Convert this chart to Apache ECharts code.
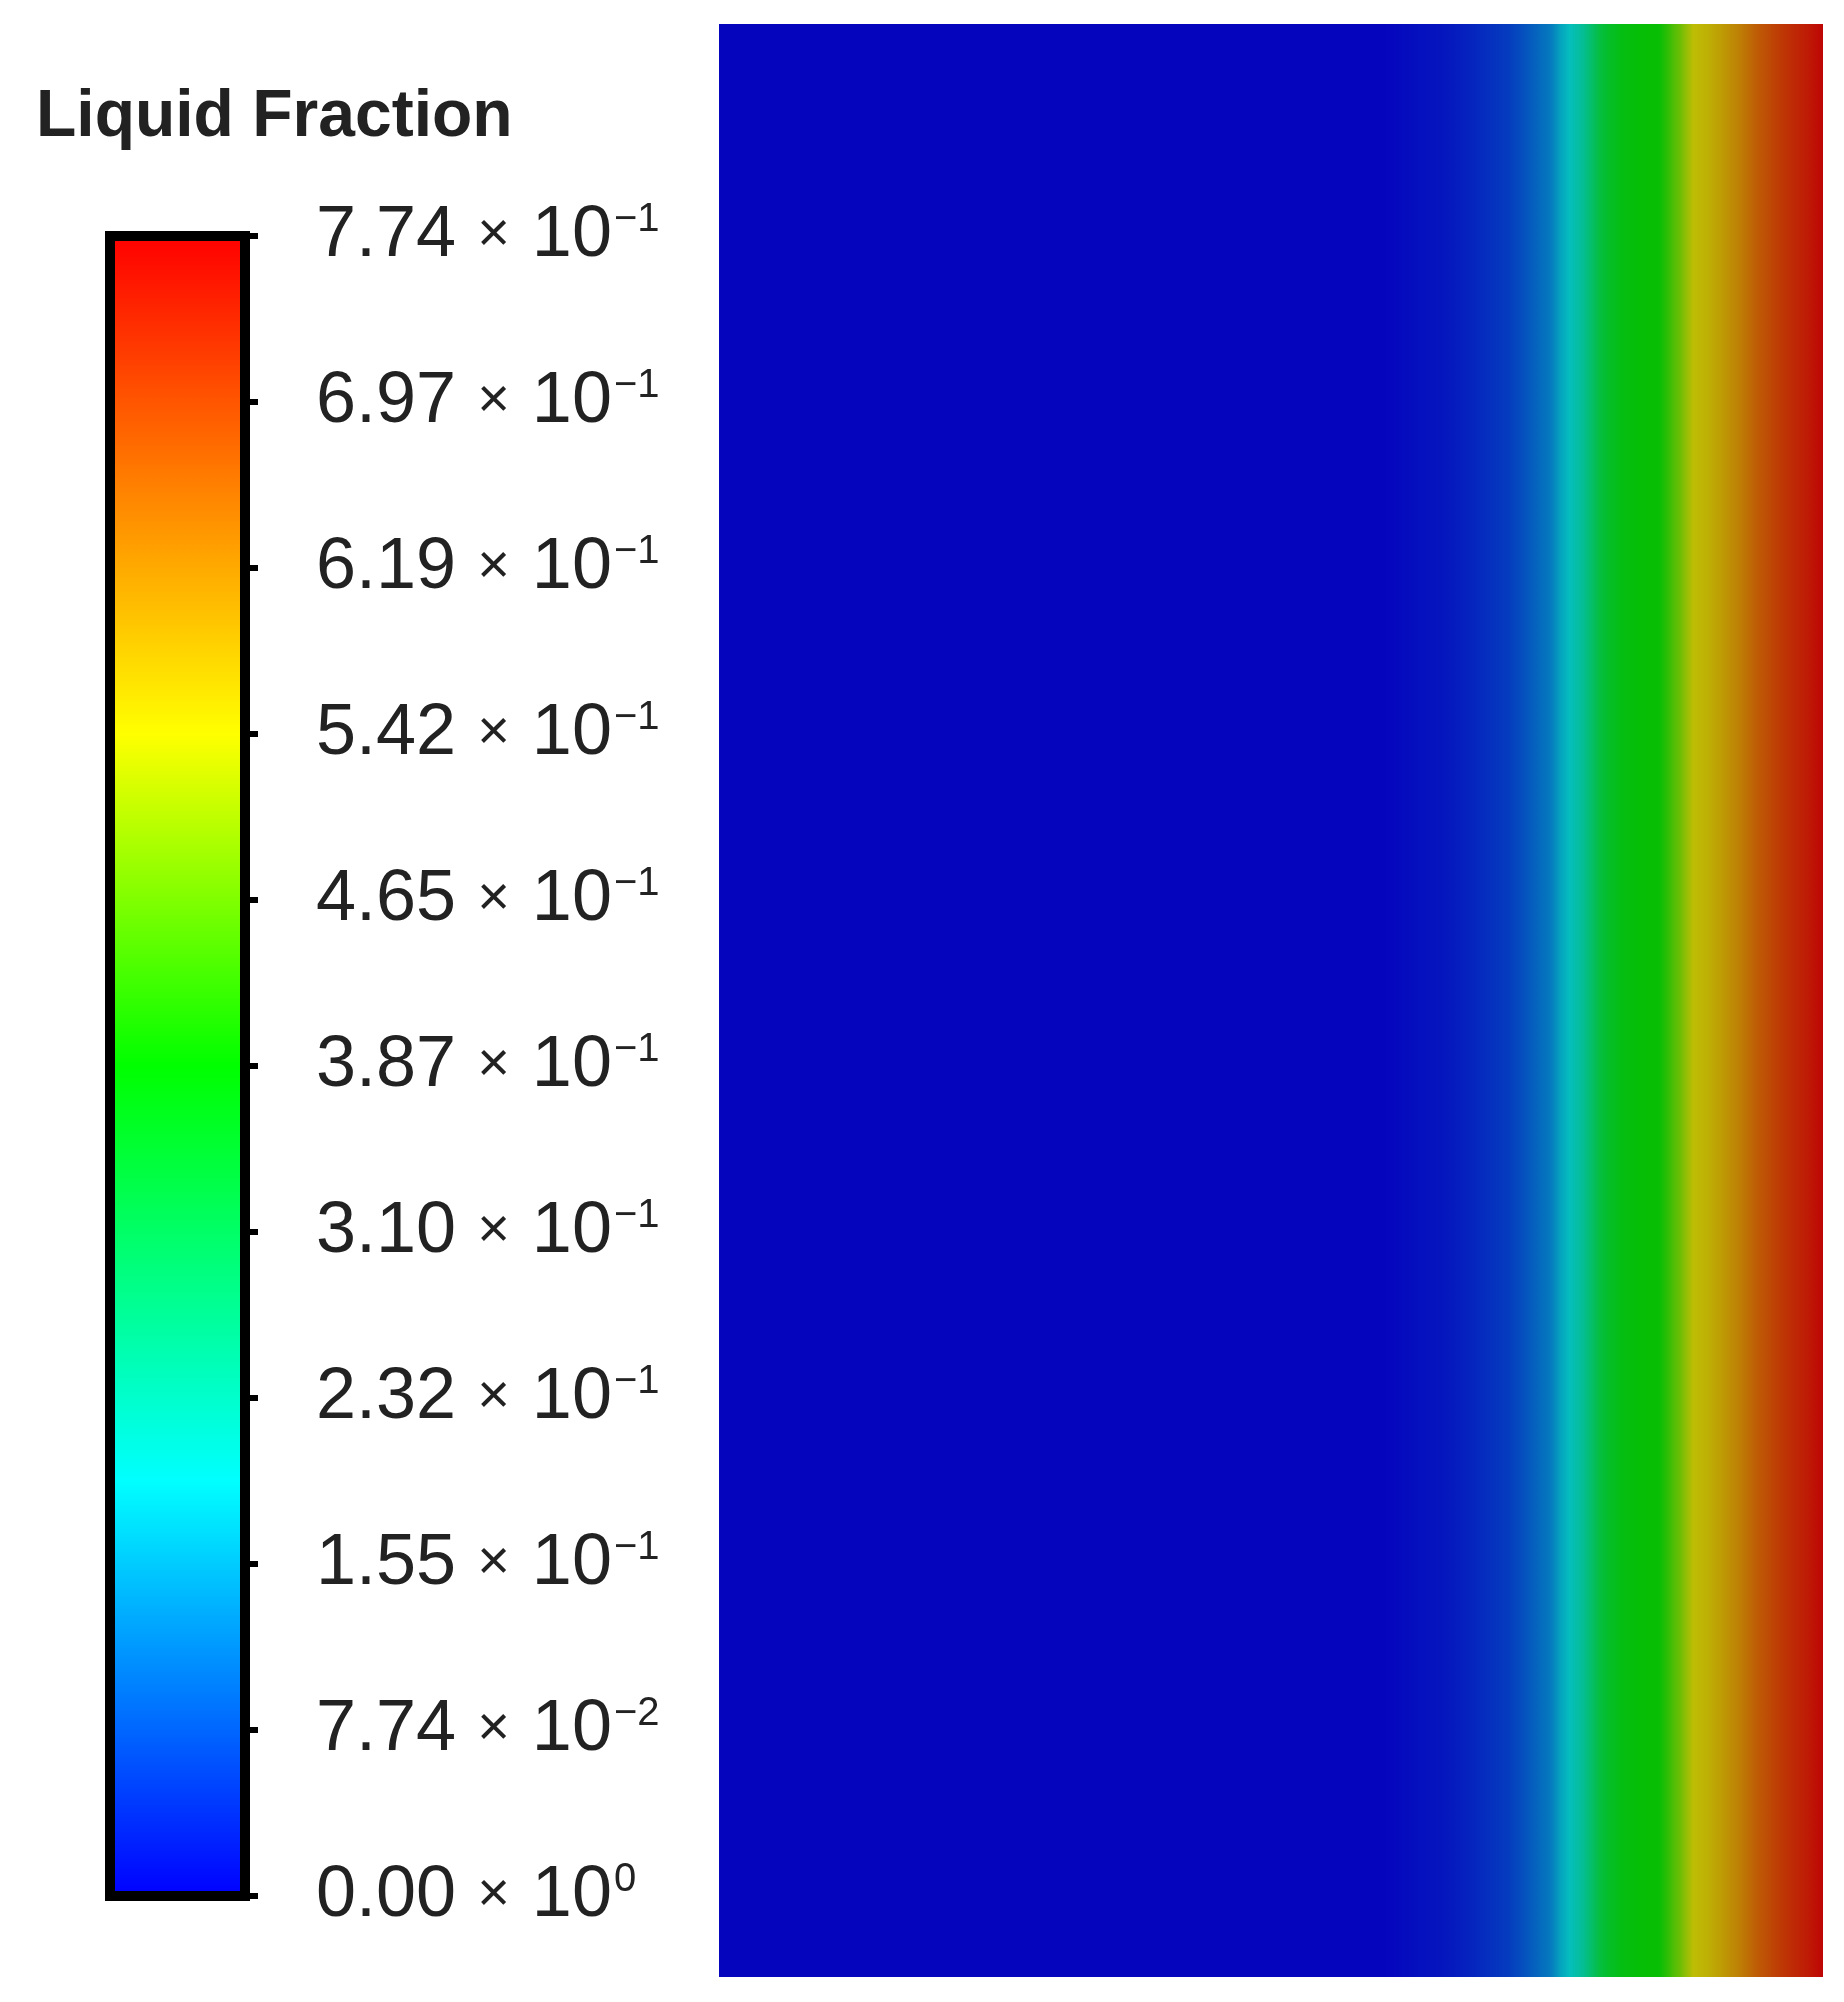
<!DOCTYPE html>
<html>
<head>
<meta charset="utf-8">
<script src="https://cdn.jsdelivr.net/npm/echarts@6/dist/echarts.min.js"></script>
<style>
  html, body { margin: 0; padding: 0; background: #ffffff; }
  #chart { width: 1844px; height: 2002px; }
</style>
</head>
<body>
<div id="chart"></div>
<script>
// ---------------- data ----------------
const TITLE = 'Liquid Fraction';
const VALUE_MIN = 0;
const VALUE_MAX = 0.774;
const TICK_STEP = 0.0774;
const TICK_VALUES = [0, 0.0774, 0.155, 0.232, 0.310, 0.387, 0.465, 0.542, 0.619, 0.697, 0.774];
const TICK_MANTISSA = ['0.00', '7.74', '1.55', '2.32', '3.10', '3.87', '4.65', '5.42', '6.19', '6.97', '7.74'];
const TICK_EXPONENT = ['0', '−2', '−1', '−1', '−1', '−1', '−1', '−1', '−1', '−1', '−1'];

// colour map (positions as fraction of the range) for the legend bar and the shaded field
const COLOR_STOPS = [0, 0.25, 0.5, 0.7, 1];
const BAR_COLORS = ['#0000ff', '#00ffff', '#00ff00', '#ffff00', '#ff0000'];
const FIELD_COLORS = ['#0505be', '#05bebe', '#05be05', '#bebe05', '#be0505'];

// sampled liquid fraction across the domain (x as fraction of width, left -> right)
const FIELD_X = [0.000, 0.603, 0.612, 0.630, 0.651, 0.672, 0.694, 0.715, 0.731, 0.743,
                 0.754, 0.761, 0.770, 0.784, 0.796, 0.804, 0.816, 0.834, 0.852, 0.863,
                 0.872, 0.882, 0.896, 0.911, 0.925, 0.938, 0.953, 0.970, 0.987, 1.000];
const FIELD_VALUE = [0.000, 0.000, 0.003, 0.010, 0.016, 0.026, 0.042, 0.058, 0.084, 0.105,
                     0.126, 0.162, 0.194, 0.246, 0.319, 0.345, 0.371, 0.387, 0.390, 0.441,
                     0.483, 0.542, 0.561, 0.592, 0.623, 0.661, 0.693, 0.724, 0.749, 0.774];

// ---------------- chart ----------------
const FONT = 'Liberation Sans';
const chart = echarts.init(document.getElementById('chart'), null, { renderer: 'canvas' });

function colorAt(t, colors) {
  t = Math.max(0, Math.min(1, t));
  for (let k = 0; k < COLOR_STOPS.length - 1; k++) {
    if (t <= COLOR_STOPS[k + 1]) {
      const u = (t - COLOR_STOPS[k]) / (COLOR_STOPS[k + 1] - COLOR_STOPS[k]);
      return echarts.color.lerp(u, [colors[k], colors[k + 1]]);
    }
  }
  return colors[colors.length - 1];
}

const fieldData = FIELD_X.slice(0, -1).map((x, i) => [x, FIELD_X[i + 1], FIELD_VALUE[i], FIELD_VALUE[i + 1]]);

function tickIndex(v) {
  let best = 0;
  for (let i = 1; i < TICK_VALUES.length; i++) {
    if (Math.abs(TICK_VALUES[i] - v) < Math.abs(TICK_VALUES[best] - v)) best = i;
  }
  return best;
}

const barGradient = new echarts.graphic.LinearGradient(0, 1, 0, 0,
  BAR_COLORS.map((c, i) => ({ offset: COLOR_STOPS[i], color: c })));

const option = {
  backgroundColor: '#ffffff',
  animation: false,
  title: {
    text: TITLE,
    left: 36,
    top: 85,
    padding: 0,
    textStyle: { fontFamily: FONT, fontSize: 66, fontWeight: 'bold', color: '#222222' }
  },
  grid: [
    { left: 719, top: 24, width: 1104, height: 1953 },
    { left: 110, top: 236, width: 135, height: 1660, show: true, borderColor: '#000000', borderWidth: 10, backgroundColor: 'transparent' }
  ],
  xAxis: [
    { gridIndex: 0, type: 'value', min: 0, max: 1, show: false },
    { gridIndex: 1, type: 'category', data: [TITLE], show: false }
  ],
  yAxis: [
    { gridIndex: 0, type: 'value', min: 0, max: 1, show: false },
    {
      gridIndex: 1, type: 'value', min: VALUE_MIN, max: VALUE_MAX, interval: TICK_STEP,
      position: 'right',
      axisLine: { show: false },
      splitLine: { show: false },
      axisTick: { show: true, inside: false, length: 13, lineStyle: { color: '#000000', width: 6 } },
      axisLabel: {
        margin: 71,
        fontFamily: FONT,
        fontSize: 72,
        color: '#222222',
        formatter: function (v) {
          const i = tickIndex(v);
          return '{m|' + TICK_MANTISSA[i] + '}{x|×}{m|10}{s|' + TICK_EXPONENT[i] + '}';
        },
        rich: {
          m: { fontFamily: FONT, fontSize: 72, color: '#222222' },
          x: { fontFamily: FONT, fontSize: 56, color: '#222222', padding: [0, 22, 0, 21] },
          s: { fontFamily: FONT, fontSize: 40, color: '#222222', verticalAlign: 'top', padding: [0, 0, 0, 2] }
        }
      }
    }
  ],
  series: [
    {
      type: 'custom',
      xAxisIndex: 0,
      yAxisIndex: 0,
      silent: true,
      data: fieldData,
      encode: { x: [0, 1] },
      renderItem: function (params, api) {
        const p0 = api.coord([api.value(0), 0]);
        const p1 = api.coord([api.value(1), 1]);
        const c0 = colorAt(api.value(2) / VALUE_MAX, FIELD_COLORS);
        const c1 = colorAt(api.value(3) / VALUE_MAX, FIELD_COLORS);
        const extra = params.dataIndex < fieldData.length - 1 ? 1 : 0;
        return {
          type: 'rect',
          shape: { x: p0[0], y: p1[1], width: p1[0] - p0[0] + extra, height: p0[1] - p1[1] },
          style: {
            fill: new echarts.graphic.LinearGradient(0, 0, 1, 0, [
              { offset: 0, color: c0 }, { offset: 1, color: c1 }
            ])
          }
        };
      }
    },
    {
      type: 'bar',
      xAxisIndex: 1,
      yAxisIndex: 1,
      silent: true,
      clip: false,
      barWidth: '100%',
      data: [VALUE_MAX],
      itemStyle: { color: barGradient, borderColor: '#000000', borderWidth: 5 }
    }
  ]
};

chart.setOption(option);
</script>
</body>
</html>
